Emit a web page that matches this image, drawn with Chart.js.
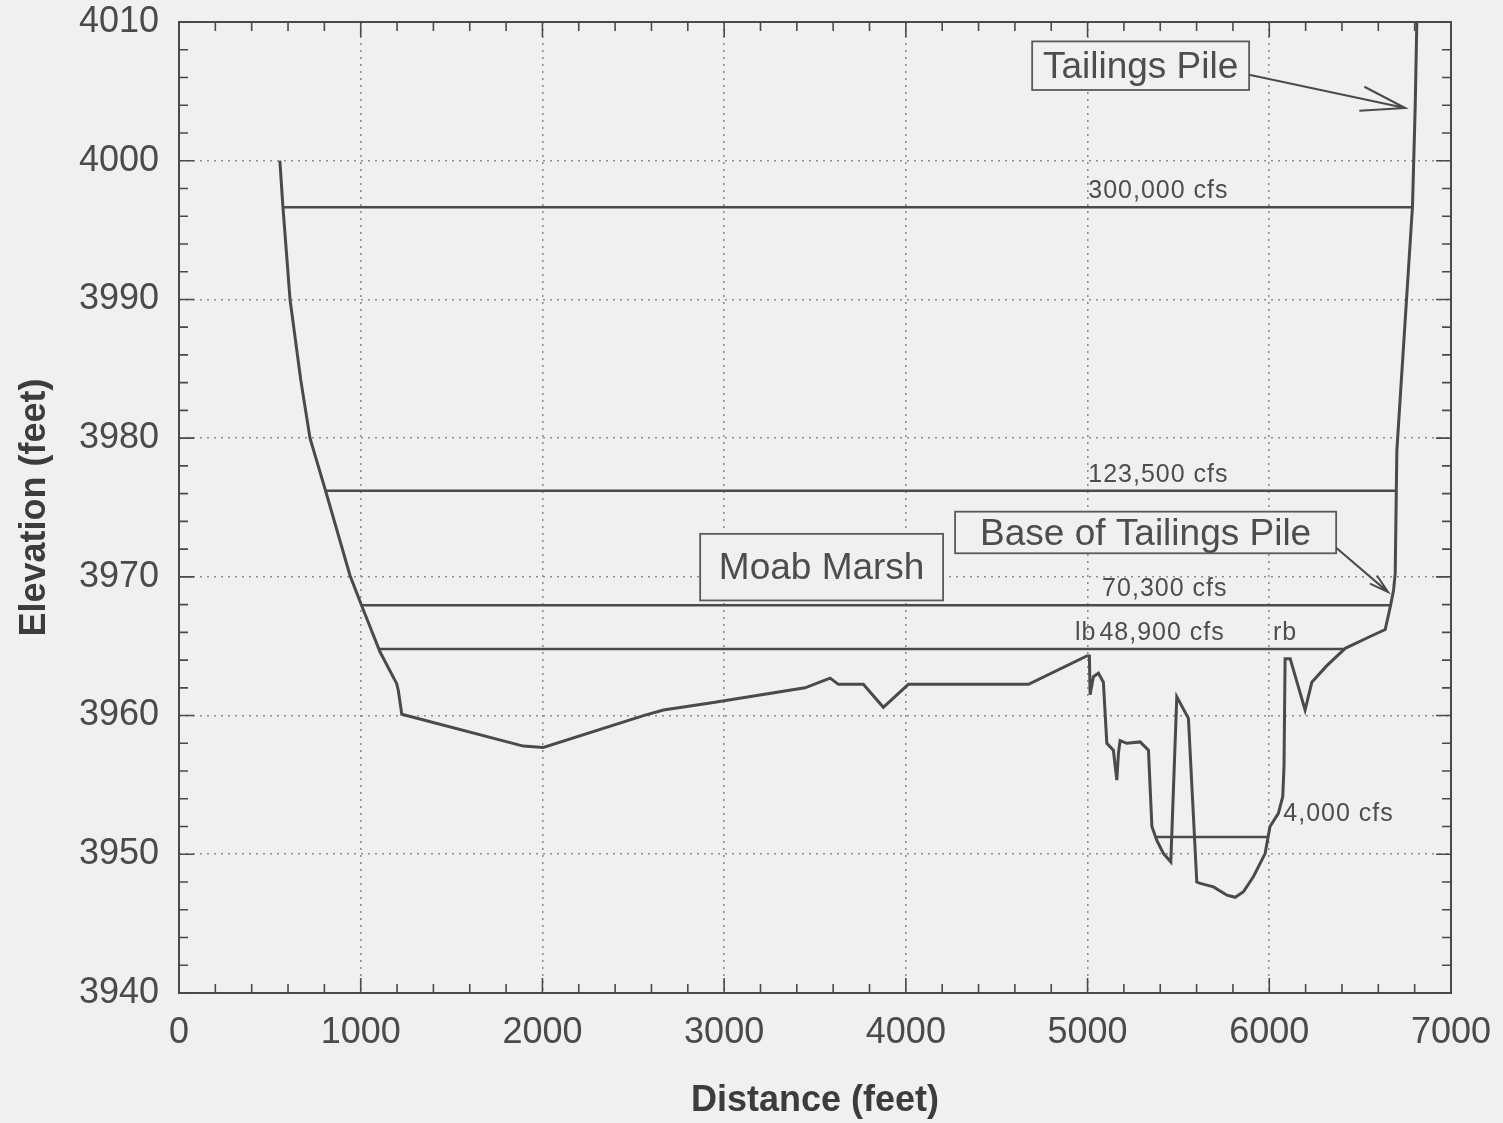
<!DOCTYPE html>
<html>
<head>
<meta charset="utf-8">
<title>Cross Section - Water Surface Elevations</title>
<script src="https://cdn.jsdelivr.net/npm/chart.js@4.4.1/dist/chart.umd.min.js"></script>
<style>
  html, body { margin: 0; padding: 0; background: #f0f0f0; }
  #wrap { width: 1503px; height: 1123px; }
</style>
</head>
<body>
<div id="wrap"><canvas id="section" width="1503" height="1123"></canvas></div>
<script>
// Ground profile of the river cross section: station (ft) and elevation (ft)
const stationFt = [
  555, 572, 611, 670, 721, 809, 941, 1006, 1106, 1198, 1207, 1226,
  1895, 2005, 2556, 2666, 2923, 3445, 3583, 3629, 3766, 3876, 4014, 4675,
  4996, 5010, 5014, 5032, 5060, 5087, 5106, 5142, 5161, 5170, 5179, 5216,
  5289, 5335, 5354, 5381, 5418, 5458, 5491, 5555, 5601, 5620, 5693, 5767,
  5812, 5858, 5913, 5977, 6004, 6050, 6074, 6081, 6087, 6115, 6197, 6234,
  6317, 6418, 6555, 6638, 6666, 6684, 6693, 6702, 6788, 6803, 6812
];
const groundElevFt = [
  4000.0, 3996.65, 3990.0, 3984.2, 3980.0, 3976.1, 3970.1, 3967.9, 3964.6, 3962.3, 3961.8, 3960.1,
  3957.8, 3957.7, 3960.0, 3960.4, 3960.9, 3962.0, 3962.7, 3962.25, 3962.25, 3960.6, 3962.25, 3962.25,
  3964.3, 3964.3, 3961.5, 3962.8, 3963.05, 3962.4, 3958.0, 3957.5, 3955.35, 3957.3, 3958.2, 3958.0,
  3958.1, 3957.5, 3952.0, 3951.0, 3950.05, 3949.45, 3961.35, 3959.8, 3948.0, 3947.9, 3947.65, 3947.05,
  3946.9, 3947.3, 3948.4, 3950.05, 3952.0, 3952.95, 3954.15, 3956.3, 3964.1, 3964.1, 3960.4, 3962.4,
  3963.6, 3964.85, 3965.7, 3966.2, 3967.85, 3969.05, 3970.25, 3979.1, 3996.7, 4003.9, 4010.0
];

// Water-surface elevation for each discharge and the stations where it meets the banks
const flowLabels = ['300,000 cfs', '123,500 cfs', '70,300 cfs', '48,900 cfs', '4,000 cfs'];
const wsElevFt   = [3996.65, 3976.2, 3967.95, 3964.8, 3951.25];
const wsLeftFt   = [572, 807, 1006, 1100, 5381];
const wsRightFt  = [6788, 6699, 6668, 6414, 5994];

// Bank station markers
const bankLabels  = ['lb', 'rb'];
const bankStation = [4990, 6087];

// Axis ticks
const xTicks = [0, 1000, 2000, 3000, 4000, 5000, 6000, 7000];
const yTicks = [3940, 3950, 3960, 3970, 3980, 3990, 4000, 4010];

const FONT = '"Liberation Sans", Arial, Helvetica, sans-serif';
const INK = '#4a4a4a';

// Label placement (station and pixel offset above its water line)
const flowLabelLayout = [
  { x: 5390, dy: -16, align: 'center' },
  { x: 5390, dy: -16, align: 'center' },
  { x: 5425, dy: -16, align: 'center' },
  { x: 5410, dy: -16, align: 'center' },
  { x: 6077, dy: -23, align: 'left' }
];

// Boxed callouts with optional leader arrows (data coordinates)
const callouts = [
  { text: 'Tailings Pile', box: [4695, 4008.6, 5889, 4005.1], from: [5889, 4006.2], to: [6748, 4003.8], head: 46 },
  { text: 'Base of Tailings Pile', box: [4271, 3974.7, 6368, 3971.7], from: [6368, 3972.1], to: [6654, 3968.9], head: 20 },
  { text: 'Moab Marsh', box: [2868, 3973.1, 4205, 3968.3] }
];

const groundData = stationFt.map((s, i) => ({ x: s, y: groundElevFt[i] }));
const wsDatasets = flowLabels.map((lab, i) => ({
  label: lab,
  data: [{ x: wsLeftFt[i], y: wsElevFt[i] }, { x: wsRightFt[i], y: wsElevFt[i] }],
  showLine: true,
  borderColor: INK,
  borderWidth: 2.5,
  pointRadius: 0,
  tension: 0
}));

const decor = {
  id: 'sectionDecor',
  beforeDraw(chart) {
    const c = chart.ctx;
    c.save();
    c.fillStyle = '#f0f0f0';
    c.fillRect(0, 0, chart.width, chart.height);
    c.restore();
  },
  afterDraw(chart) {
    const c = chart.ctx;
    const a = chart.chartArea;
    const xs = chart.scales.x, ys = chart.scales.y;
    const px = v => xs.getPixelForValue(v);
    const py = v => ys.getPixelForValue(v);

    c.save();
    // plot frame
    c.strokeStyle = INK;
    c.lineWidth = 2;
    c.strokeRect(a.left, a.top, a.right - a.left, a.bottom - a.top);

    // inward tick marks on all four sides
    c.lineWidth = 1.6;
    c.beginPath();
    for (let v = 0; v <= 7000; v += 200) {
      const len = v % 1000 === 0 ? 15 : 9;
      const X = px(v);
      c.moveTo(X, a.bottom); c.lineTo(X, a.bottom - len);
      c.moveTo(X, a.top); c.lineTo(X, a.top + len);
    }
    for (let v = 3940; v <= 4010; v += 2) {
      const len = (v % 10 === 0) ? 15 : 9;
      const Y = py(v);
      c.moveTo(a.left, Y); c.lineTo(a.left + len, Y);
      c.moveTo(a.right, Y); c.lineTo(a.right - len, Y);
    }
    c.stroke();

    // discharge labels above their water surfaces
    c.fillStyle = '#4d4d4d';
    c.font = '25px ' + FONT;
    c.letterSpacing = '1px';
    c.textBaseline = 'middle';
    flowLabels.forEach((lab, i) => {
      const L = flowLabelLayout[i];
      c.textAlign = L.align;
      c.fillText(lab, px(L.x), py(wsElevFt[i]) + L.dy);
    });
    c.textAlign = 'center';
    bankLabels.forEach((lab, i) => {
      c.fillText(lab, px(bankStation[i]), py(wsElevFt[3]) - 16);
    });
    c.letterSpacing = '0px';

    // callout boxes, text and arrows
    callouts.forEach(co => {
      const x1 = px(co.box[0]), y1 = py(co.box[1]);
      const x2 = px(co.box[2]), y2 = py(co.box[3]);
      c.strokeStyle = '#5a5a5a';
      c.lineWidth = 1.8;
      c.fillStyle = '#f0f0f0';
      c.fillRect(x1, y1, x2 - x1, y2 - y1);
      c.strokeRect(x1, y1, x2 - x1, y2 - y1);
      c.fillStyle = '#4d4d4d';
      c.font = '37px ' + FONT;
      c.textAlign = 'center';
      c.textBaseline = 'middle';
      c.fillText(co.text, (x1 + x2) / 2, (y1 + y2) / 2 + 2);
      if (co.from) {
        const fx = px(co.from[0]), fy = py(co.from[1]);
        const tx = px(co.to[0]), ty = py(co.to[1]);
        const ang = Math.atan2(ty - fy, tx - fx);
        c.strokeStyle = '#4a4a4a';
        c.lineWidth = 2;
        c.beginPath();
        c.moveTo(fx, fy); c.lineTo(tx, ty);
        c.moveTo(tx - co.head * Math.cos(ang - 0.27), ty - co.head * Math.sin(ang - 0.27));
        c.lineTo(tx, ty);
        c.lineTo(tx - co.head * Math.cos(ang + 0.27), ty - co.head * Math.sin(ang + 0.27));
        c.stroke();
      }
    });
    c.restore();
  }
};

const gridColor = (ctx, lo, hi) => {
  const v = ctx.tick ? ctx.tick.value : null;
  return (v === lo || v === hi) ? 'rgba(0,0,0,0)' : '#8e8e8e';
};

new Chart(document.getElementById('section'), {
  type: 'scatter',
  data: {
    datasets: [
      {
        label: 'Ground',
        data: groundData,
        showLine: true,
        borderColor: INK,
        borderWidth: 3,
        pointRadius: 0,
        tension: 0
      },
      ...wsDatasets
    ]
  },
  options: {
    responsive: false,
    animation: false,
    devicePixelRatio: 1,
    layout: { padding: { top: 22, right: 52, left: 0, bottom: 0 } },
    plugins: { legend: { display: false }, tooltip: { enabled: false } },
    scales: {
      x: {
        type: 'linear',
        min: 0, max: 7000,
        afterBuildTicks: s => { s.ticks = xTicks.map(v => ({ value: v })); },
        afterFit: s => { s.height = 130; s.paddingLeft = 0; s.paddingRight = 0; },
        ticks: { font: { family: FONT, size: 36 }, color: INK, padding: 18, maxRotation: 0,
                 callback: v => String(v) },
        grid: { drawTicks: false, color: ctx => gridColor(ctx, 0, 7000), lineWidth: 1.6 },
        border: { display: false, dash: [2, 5] },
        title: { display: true, text: 'Distance (feet)', color: '#3c3c3c',
                 font: { family: FONT, size: 36, weight: 'bold' }, padding: { top: 0, bottom: 0 } }
      },
      y: {
        type: 'linear',
        min: 3940, max: 4010,
        afterBuildTicks: s => { s.ticks = yTicks.map(v => ({ value: v })); },
        afterFit: s => { s.width = 179; s.paddingTop = 0; s.paddingBottom = 0; },
        ticks: { font: { family: FONT, size: 36 }, color: INK, padding: 20,
                 callback: v => String(v) },
        grid: { drawTicks: false, color: ctx => gridColor(ctx, 3940, 4010), lineWidth: 1.6 },
        border: { display: false, dash: [2, 5] },
        title: { display: true, text: 'Elevation (feet)', color: '#3c3c3c',
                 font: { family: FONT, size: 36, weight: 'bold' }, padding: { top: 13, bottom: 0 } }
      }
    }
  },
  plugins: [decor]
});
</script>
</body>
</html>
